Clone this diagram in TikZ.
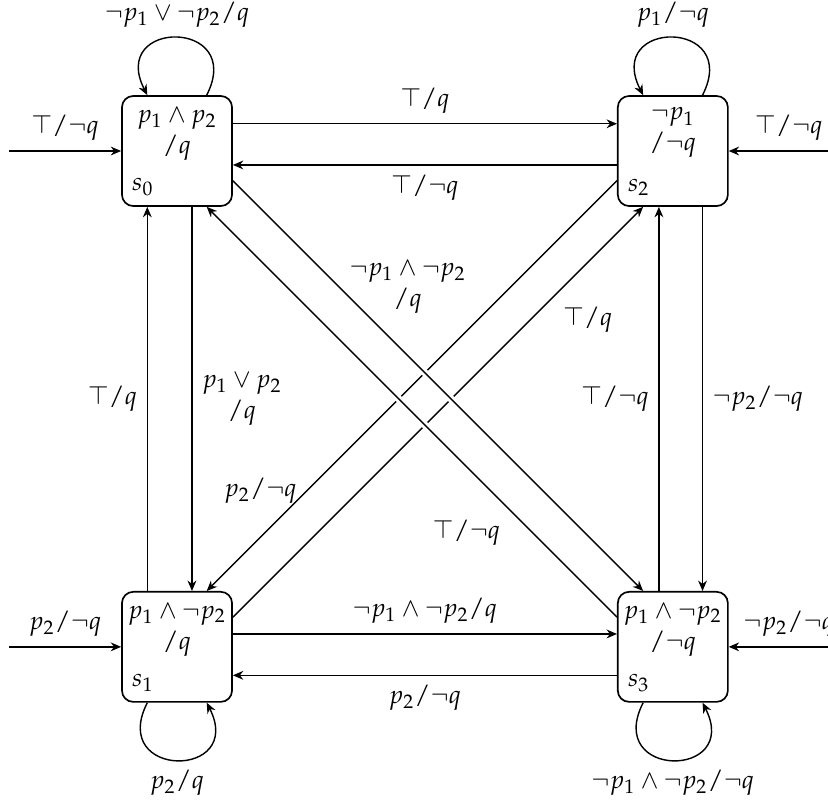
\documentclass[tikz,border=0pt]{standalone}
\usepackage{mathpazo}
\usetikzlibrary{positioning, arrows.meta}

\begin{document}
\begin{tikzpicture}[
        x=0.0125cm, y=0.0125cm,
        node distance=4.8cm,
        every node/.style={font=\small},
        state/.style={rectangle, draw, semithick, rounded corners=4pt,
            minimum size=1.375cm, inner sep=0pt},
        stext/.style={anchor=north, align=center, inner sep=2pt, yshift=-0.8mm},
        sname/.style={anchor=south west, inner sep=2pt, xshift=0.6mm, yshift=0.6mm},
        arrow/.style={-{Stealth[length=1.3mm, width=1.1mm]}, line width=0.5pt},
        halo/.style={preaction={draw, -, white, line width=2.5pt,
            shorten <=1.5cm, shorten >=1.5cm}},
    ]
    \useasboundingbox (0,0) rectangle (828,-805);
    \node[state] (s0) at (177,-151) {};
    \node[state, right=of s0] (s2) {};
    \node[state, below=of s0] (s1) {};
    \node[state, below=of s2] (s3) {};
    \node[stext] (t0) at (s0.north) {$p_1\wedge p_2$\\$/q$};
    \node[stext] (t2) at (s2.north) {$\neg p_1$\\$/\neg q$};
    \node[stext] (t1) at (s1.north) {$p_1\wedge\neg p_2$\\$/q$};
    \node[stext] (t3) at (s3.north) {$p_1\wedge\neg p_2$\\$/\neg q$};
    \node[sname] (n0) at (s0.south west) {$s_0$};
    \node[sname] (n2) at (s2.south west) {$s_2$};
    \node[sname] (n1) at (s1.south west) {$s_1$};
    \node[sname] (n3) at (s3.south west) {$s_3$};
    \coordinate[left=1.4cm of s0] (i0);
    \coordinate[right=1.5cm of s2] (i2);
    \coordinate[left=1.4cm of s1] (i1);
    \coordinate[right=1.5cm of s3] (i3);
    \draw[arrow] (i0) -- node[above] {$\top/\neg q$} (s0);
    \draw[arrow] (i2) -- node[above] {$\top/\neg q$} (s2);
    \draw[arrow] (i1) -- node[above] {$p_2/\neg q$} (s1);
    \draw[arrow] (i3) -- node[above] {$\neg p_2/\neg q$} (s3);
    \draw[arrow] (s0.62) .. controls +(63:86) and +(117:86) .. node[above] {$\neg p_1\vee\neg p_2/q$} (s0.118);
    \draw[arrow] (s2.62) .. controls +(63:86) and +(117:86) .. node[above] {$p_1/\neg q$} (s2.118);
    \draw[arrow] (s1.-118) .. controls +(-117:86) and +(-63:86) .. node[below] {$p_2/q$} (s1.-62);
    \draw[arrow] (s3.-118) .. controls +(-117:86) and +(-63:86) .. node[below] {$\neg p_1\wedge\neg p_2/\neg q$} (s3.-62);
    \draw[arrow] (s0.26) -- node[above] {$\top/q$} (s2.154);
    \draw[arrow] (s2.194) -- node[below] {$\top/\neg q$} (s0.-14);
    \draw[arrow] (s1.13) -- node[above] {$\neg p_1\wedge\neg p_2/q$} (s3.167);
    \draw[arrow] (s3.207) -- node[below] {$p_2/\neg q$} (s1.-27);
    \draw[arrow] (s1.118) -- node[left] {$\top/q$} (s0.242);
    \draw[arrow] (s0.285) -- node[right, align=center] {$p_1\vee p_2$\\$/q$} (s1.75);
    \draw[arrow] (s3.104) -- node[left] {$\top/\neg q$} (s2.256);
    \draw[arrow] (s2.298) -- node[right] {$\neg p_2/\neg q$} (s3.62);
    \draw[arrow] (s1.28) -- node[pos=0.78, below right] {$\top/q$} (s2.242);
    \draw[arrow] (s2.208) -- node[pos=0.756, left] {$p_2/\neg q$} (s1.62);
    \draw[arrow, halo] (s0.-28) -- node[pos=0.26, right, align=center] {$\neg p_1\wedge\neg p_2$\\$/q$} (s3.118);
    \draw[arrow, halo] (s3.152) -- node[pos=0.26, below left] {$\top/\neg q$} (s0.-62);
\end{tikzpicture}
\end{document}
